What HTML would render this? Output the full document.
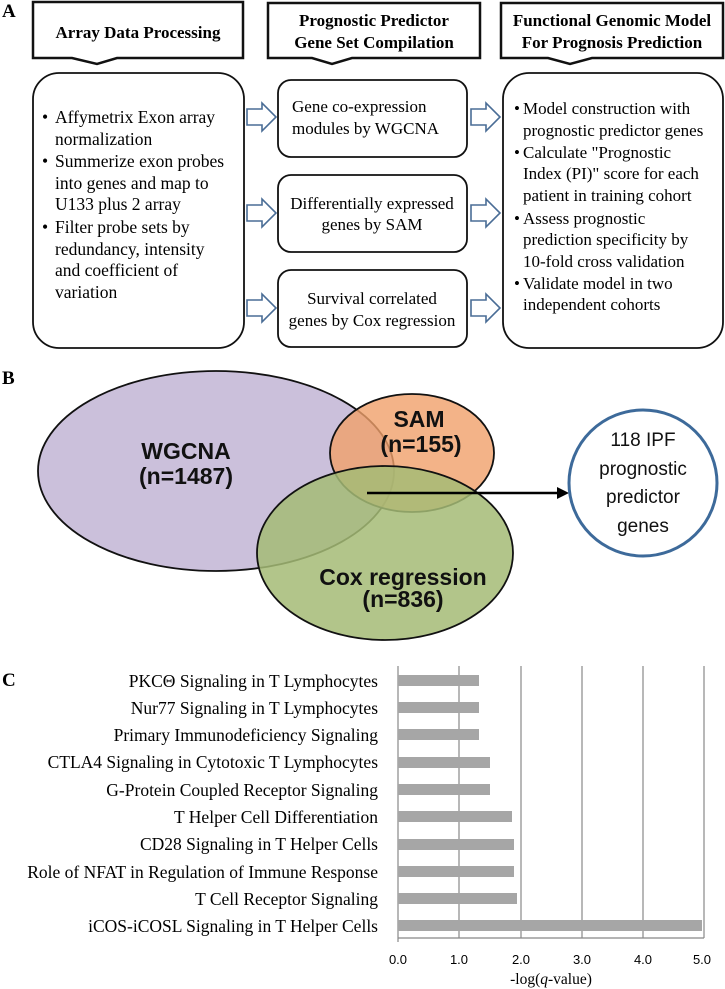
<!DOCTYPE html>
<html><head><meta charset="utf-8"><style>
html,body{margin:0;padding:0;background:#fff;}
svg{display:block;}
.s{font-family:"Liberation Serif",serif;}
.b{font-family:"Liberation Sans",sans-serif;font-weight:bold;}
</style></head><body>
<svg width="725" height="989" viewBox="0 0 725 989" xmlns="http://www.w3.org/2000/svg">
<defs>
<g id="arr"><path d="M0,-8 H15 V-14 L29,0 L15,14 V8 H0 Z" fill="#fff" stroke="#4a6d96" stroke-width="1.6"/></g>
</defs>
<text x="2" y="17" class="s" font-size="19" font-weight="bold">A</text>
<g fill="#fff" stroke="#111" stroke-width="2.5">
<path d="M33,2 H243 V58 H117 L97,64 L72,58 H33 Z"/>
<path d="M268,3 H480 V58 H352 L332,64 L312,58 H268 Z"/>
<path d="M501,3 H723 V58 H592 L570,64 L548,58 H501 Z"/>
</g>
<g class="s" font-weight="bold" font-size="17" text-anchor="middle">
<text x="138" y="38">Array Data Processing</text>
<text x="374" y="26">Prognostic Predictor</text>
<text x="374" y="48">Gene Set Compilation</text>
<text x="612" y="26">Functional Genomic Model</text>
<text x="612" y="48">For Prognosis Prediction</text>
</g>
<g fill="#fff" stroke="#111" stroke-width="1.8">
<rect x="33" y="73" width="211" height="275" rx="26"/>
<rect x="278" y="80" width="189" height="77" rx="13"/>
<rect x="278" y="175" width="189" height="77" rx="13"/>
<rect x="278" y="270" width="189" height="77" rx="13"/>
<rect x="503" y="73" width="220" height="275" rx="26"/>
</g>
<g class="s" font-size="17.5">
<text x="42" y="123">•</text><text x="55" y="123">Affymetrix Exon array</text>
<text x="55" y="145">normalization</text>
<text x="42" y="167">•</text><text x="55" y="167">Summerize exon probes</text>
<text x="55" y="189">into genes and map to</text>
<text x="55" y="210">U133 plus 2 array</text>
<text x="42" y="233">•</text><text x="55" y="233">Filter probe sets by</text>
<text x="55" y="255">redundancy, intensity</text>
<text x="55" y="276">and coefficient of</text>
<text x="55" y="298">variation</text>
</g>
<g class="s" font-size="17">
<text x="292" y="112">Gene co-expression</text>
<text x="292" y="134">modules by WGCNA</text>
<text x="372" y="209" text-anchor="middle">Differentially expressed</text>
<text x="372" y="230" text-anchor="middle">genes by SAM</text>
<text x="372" y="304" text-anchor="middle">Survival correlated</text>
<text x="372" y="326" text-anchor="middle">genes by Cox regression</text>
</g>
<g class="s" font-size="17">
<text x="514" y="114">•</text><text x="523" y="114">Model construction with</text>
<text x="523" y="136">prognostic predictor genes</text>
<text x="514" y="158">•</text><text x="523" y="158">Calculate "Prognostic</text>
<text x="523" y="179">Index (PI)" score for each</text>
<text x="523" y="201">patient in training cohort</text>
<text x="514" y="224">•</text><text x="523" y="224">Assess prognostic</text>
<text x="523" y="245">prediction specificity by</text>
<text x="523" y="267">10-fold cross validation</text>
<text x="514" y="289">•</text><text x="523" y="289">Validate model in two</text>
<text x="523" y="310">independent cohorts</text>
</g>
<use href="#arr" x="247" y="117"/>
<use href="#arr" x="247" y="213"/>
<use href="#arr" x="247" y="308"/>
<use href="#arr" x="471" y="117"/>
<use href="#arr" x="471" y="213"/>
<use href="#arr" x="471" y="308"/>
<text x="2" y="384" class="s" font-size="19" font-weight="bold">B</text>
<ellipse cx="216" cy="471" rx="178" ry="100" fill="#cbc0db" stroke="#111" stroke-width="1.8"/>
<ellipse cx="412" cy="453" rx="82" ry="59" fill="#f0a06a" fill-opacity="0.8" stroke="#111" stroke-width="1.8"/>
<ellipse cx="385" cy="553" rx="128" ry="87" fill="#a5bb76" fill-opacity="0.85" stroke="#111" stroke-width="1.8"/>
<line x1="367" y1="493" x2="558" y2="493" stroke="#000" stroke-width="2.5"/>
<path d="M557,487 L569,493 L557,499 Z" fill="#000"/>
<ellipse cx="643" cy="483" rx="74" ry="73" fill="#fff" stroke="#3d6a9a" stroke-width="3"/>
<g class="b" font-size="23" text-anchor="middle" fill="#111">
<text x="186" y="459">WGCNA</text>
<text x="186" y="484">(n=1487)</text>
<text x="419" y="427">SAM</text>
<text x="421" y="452">(n=155)</text>
<text x="403" y="585">Cox regression</text>
<text x="403" y="607">(n=836)</text>
</g>
<g font-family="Liberation Sans,sans-serif" font-size="19" text-anchor="middle" fill="#111">
<text x="643" y="446">118 IPF</text>
<text x="643" y="475">prognostic</text>
<text x="643" y="503">predictor</text>
<text x="643" y="532">genes</text>
</g>
<text x="2" y="686" class="s" font-size="19" font-weight="bold">C</text>
<g stroke="#888" stroke-width="1.2">
<line x1="459" y1="666" x2="459" y2="938"/>
<line x1="521" y1="666" x2="521" y2="938"/>
<line x1="582" y1="666" x2="582" y2="938"/>
<line x1="643" y1="666" x2="643" y2="938"/>
<line x1="704" y1="666" x2="704" y2="938"/>
<line x1="398" y1="666" x2="398" y2="942"/>
<line x1="398" y1="938" x2="704" y2="938"/>
</g>
<g fill="#a6a6a6">
<rect x="398" y="675" width="81" height="11"/>
<rect x="398" y="702" width="81" height="11"/>
<rect x="398" y="729" width="81" height="11"/>
<rect x="398" y="757" width="92" height="11"/>
<rect x="398" y="784" width="92" height="11"/>
<rect x="398" y="811" width="114" height="11"/>
<rect x="398" y="839" width="116" height="11"/>
<rect x="398" y="866" width="116" height="11"/>
<rect x="398" y="893" width="119" height="11"/>
<rect x="398" y="920" width="304" height="11"/>
</g>
<g class="s" font-size="17.5" text-anchor="end">
<text x="378" y="687">PKCΘ Signaling in T Lymphocytes</text>
<text x="378" y="714">Nur77 Signaling in T Lymphocytes</text>
<text x="378" y="741">Primary Immunodeficiency Signaling</text>
<text x="378" y="768">CTLA4 Signaling in Cytotoxic T Lymphocytes</text>
<text x="378" y="796">G-Protein Coupled Receptor Signaling</text>
<text x="378" y="823">T Helper Cell Differentiation</text>
<text x="378" y="850">CD28 Signaling in T Helper Cells</text>
<text x="378" y="878">Role of NFAT in Regulation of Immune Response</text>
<text x="378" y="905">T Cell Receptor Signaling</text>
<text x="378" y="932">iCOS-iCOSL Signaling in T Helper Cells</text>
</g>
<g font-family="Liberation Sans,sans-serif" font-size="13" text-anchor="middle">
<text x="398" y="964">0.0</text>
<text x="459" y="964">1.0</text>
<text x="521" y="964">2.0</text>
<text x="582" y="964">3.0</text>
<text x="643" y="964">4.0</text>
<text x="702" y="964">5.0</text>
</g>
<text x="551" y="984" class="s" font-size="15.5" text-anchor="middle">-log(<tspan font-style="italic">q</tspan>-value)</text>
</svg>
</body></html>
